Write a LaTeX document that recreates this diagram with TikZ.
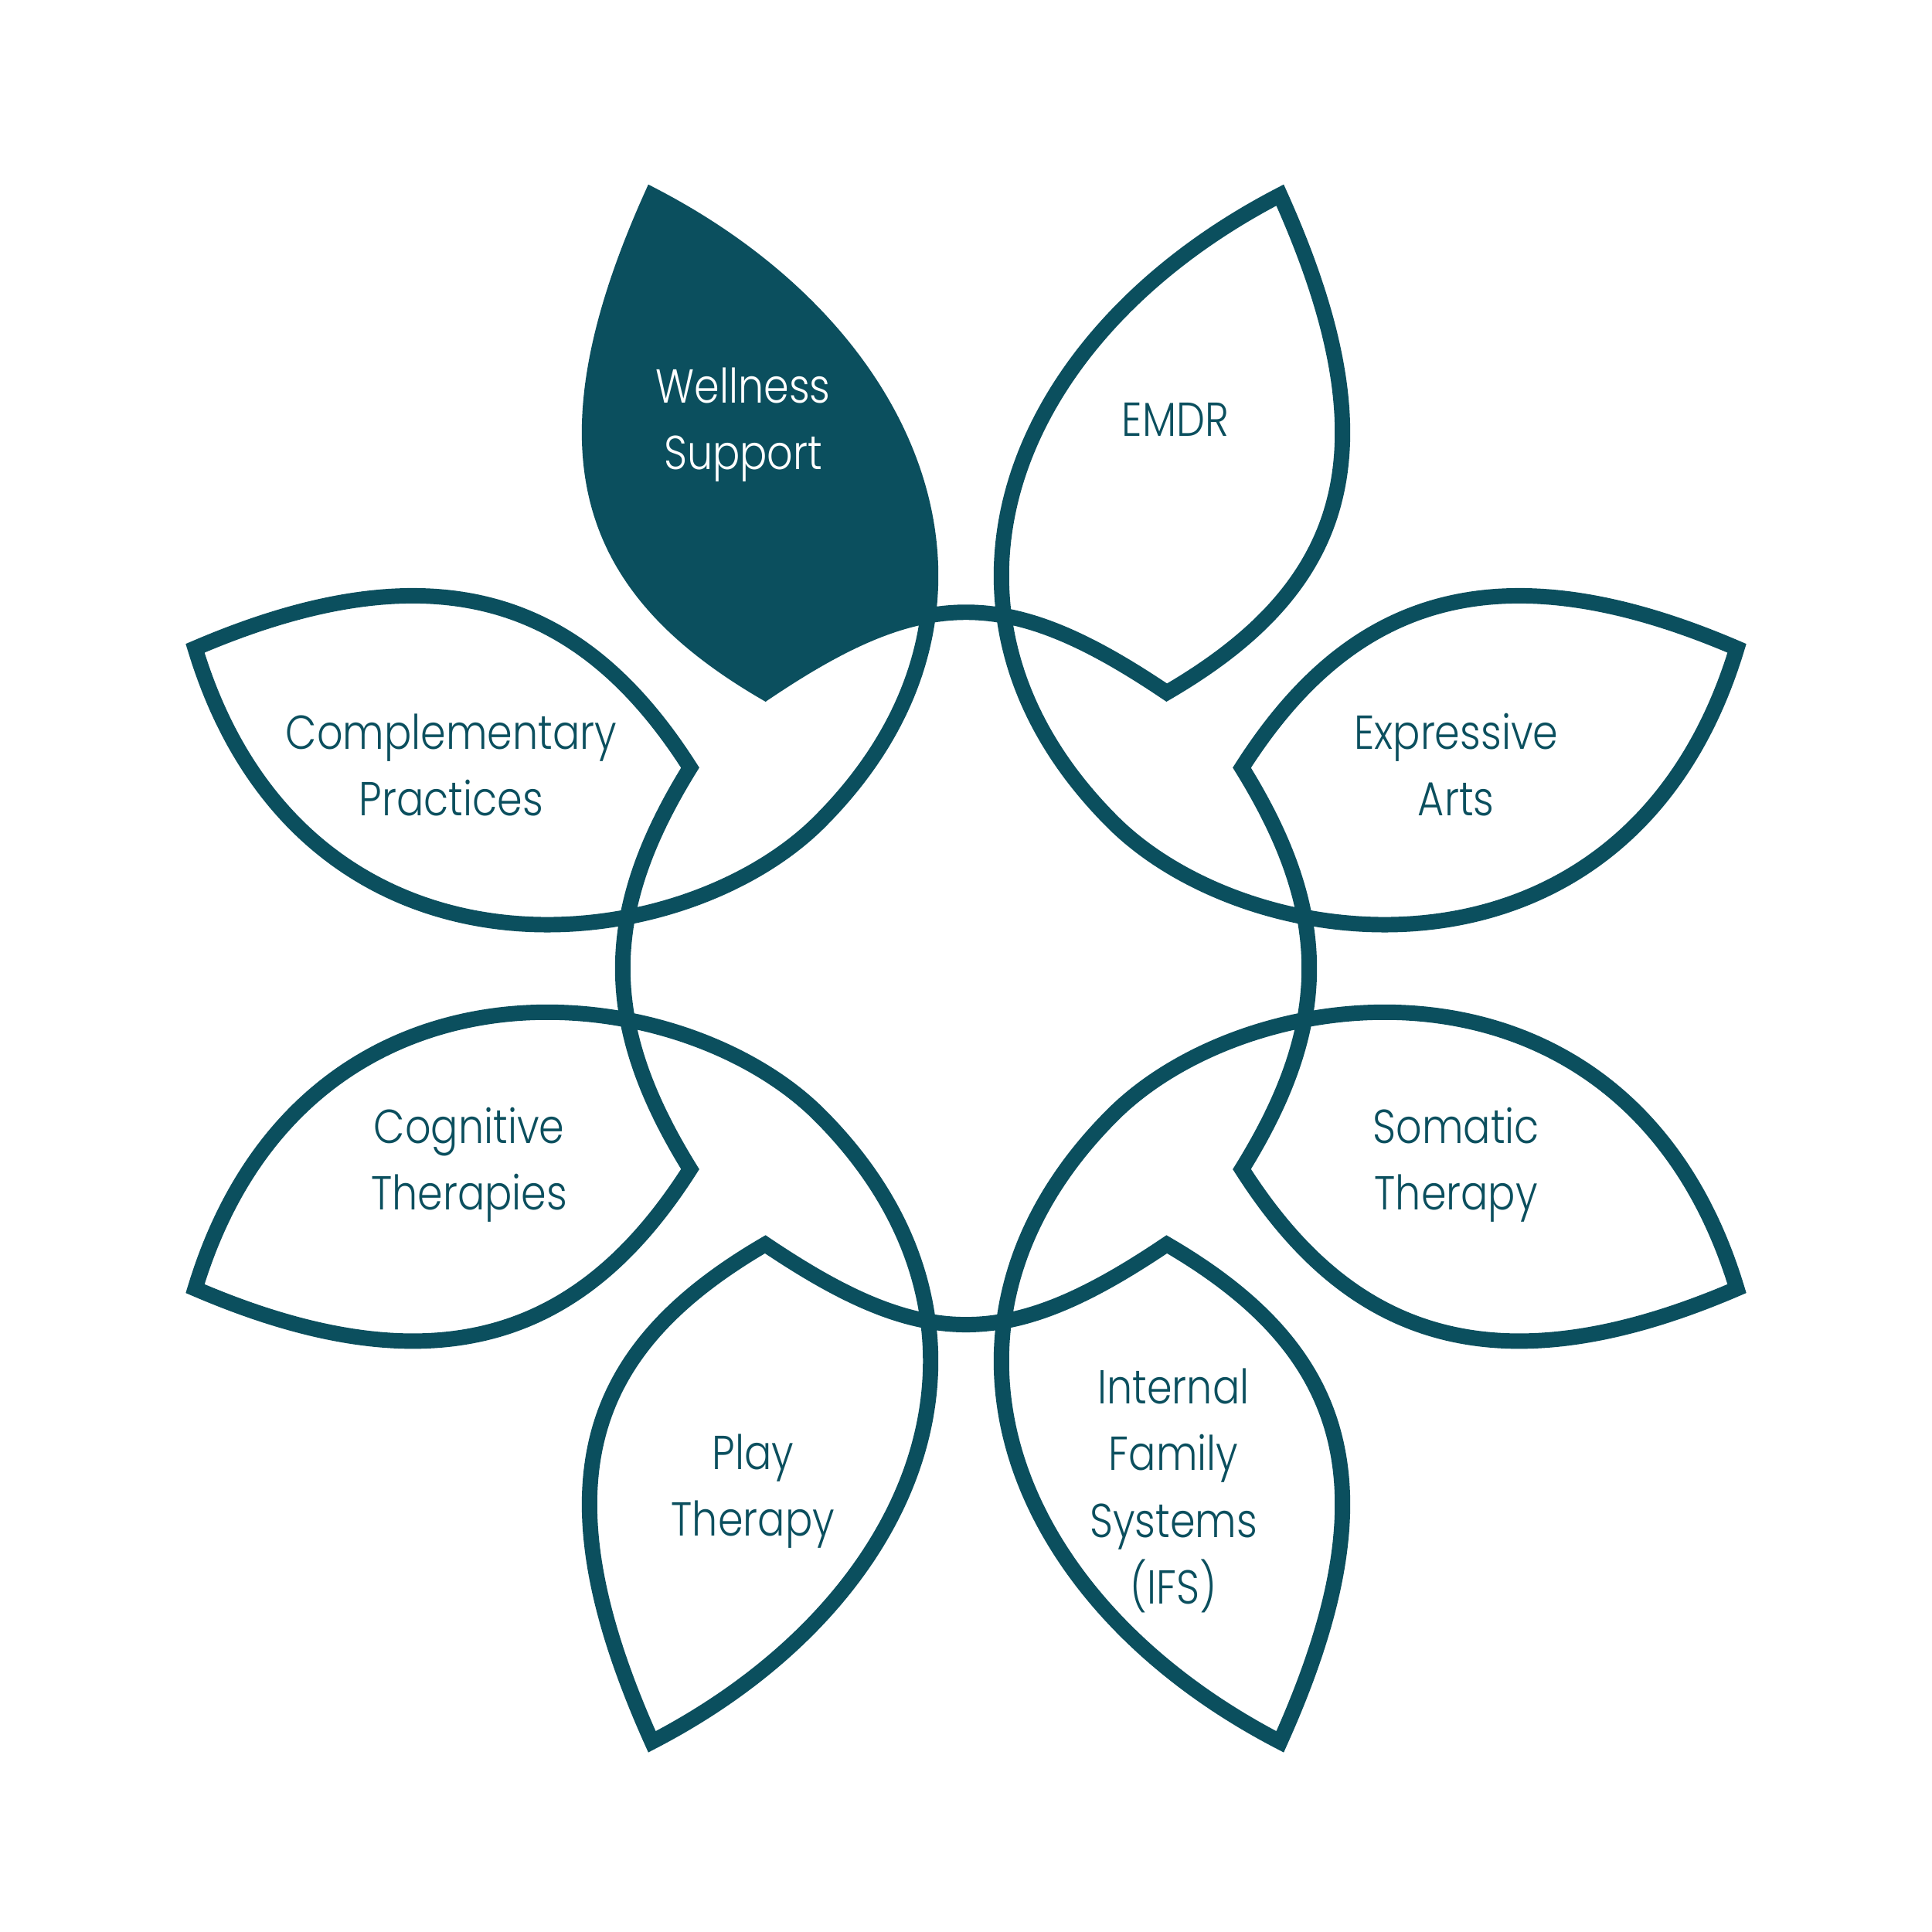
\documentclass[tikz,border=0pt]{standalone}
\usepackage{fontspec}
\IfFontExistsTF{Poppins Light}{\setmainfont{Poppins Light}}{\setmainfont{Poppins}}
\definecolor{petalc}{HTML}{0B4F5E}
\tikzset{
  petalline/.style={draw=petalc, line width=3.56pt, line join=miter, miter limit=6},
  lbl/.style={text=petalc, font=\fontsize{11pt}{15.4pt}\selectfont, align=center, anchor=base, inner sep=0pt, xscale=0.85},
  lblw/.style={lbl, text=white}
}
\begin{document}
\begin{tikzpicture}
\useasboundingbox (0,0) rectangle (15.68,15.68);
\begin{scope}[shift={(7.84cm,7.82cm)}, x=0.01cm, y=-0.01cm]
  % filled petal (Wellness Support)
  \begin{scope}
    \clip (-255,-628) .. controls (-33,-513) and (51,-289) .. (-119,-119)
          -- (-450,-119) -- (-450,-700) -- (-300,-700) -- cycle;
    \fill[petalc] (-255,-628) .. controls (-349,-419) and (-309,-309) .. (-163,-224)
          .. controls (-34,-311) and (34,-311) .. (163,-224)
          -- (163,-700) -- cycle;
  \end{scope}
  % outline of the whole flower
  \draw[petalline] (-255,-628)
    .. controls (-349,-419) and (-309,-309) .. (-163,-224)
    .. controls (-34,-311) and (34,-311) .. (163,-224)
    .. controls (309,-309) and (349,-419) .. (255,-628)
    .. controls (33,-513) and (-51,-289) .. (119,-119)
    .. controls (234,-4) and (539,28) .. (626,-260)
    .. controls (419,-349) and (305,-290) .. (224,-163)
    .. controls (297,-45) and (297,45) .. (224,163)
    .. controls (305,290) and (419,349) .. (626,260)
    .. controls (539,-28) and (234,4) .. (119,119)
    .. controls (-51,289) and (33,513) .. (255,628)
    .. controls (349,419) and (309,309) .. (163,224)
    .. controls (34,311) and (-34,311) .. (-163,224)
    .. controls (-309,309) and (-349,419) .. (-255,628)
    .. controls (-33,513) and (51,289) .. (-119,119)
    .. controls (-234,4) and (-539,-28) .. (-626,260)
    .. controls (-419,349) and (-305,290) .. (-224,163)
    .. controls (-297,45) and (-297,-45) .. (-224,-163)
    .. controls (-305,-290) and (-419,-349) .. (-626,-260)
    .. controls (-539,28) and (-234,-4) .. (-119,-119)
    .. controls (51,-289) and (-33,-513) .. (-255,-628) -- cycle;
  % labels
  \node[lblw] (wellness) at (-181,-405) {Wellness\\Support};
  \node[lbl] (emdr) at (170,-432) {EMDR};
  \node[lbl] (complementary) at (-418,-124) {Complementary\\Practices};
  \node[lbl] (expressive) at (398,-124) {Expressive\\Arts};
  \node[lbl] (cognitive) at (-403.5,196) {Cognitive\\Therapies};
  \node[lbl] (somatic) at (398,196) {Somatic\\Therapy};
  \node[lbl] (play) at (-173,461) {Play\\Therapy};
  \node[lbl] (ifs) at (168.5,516) {Internal\\Family\\Systems\\(IFS)};
\end{scope}
\end{tikzpicture}
\end{document}
